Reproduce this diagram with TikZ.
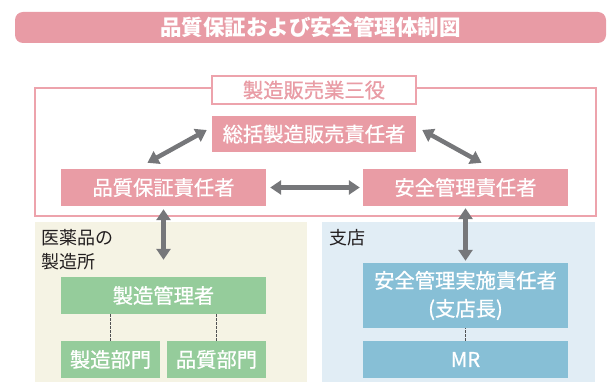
\documentclass[tikz,border=0pt]{standalone}
\usepackage{fontspec}
\setmainfont{Noto Sans CJK JP}
\newfontfamily\medfont{Noto Sans CJK JP}[FakeBold=0.9]
\usetikzlibrary{arrows.meta}
\definecolor{titlepink}{HTML}{E89BA5}
\definecolor{boxpink}{HTML}{E99CA5}
\definecolor{linepink}{HTML}{EDA3AC}
\definecolor{boxgreen}{HTML}{95CC9B}
\definecolor{boxblue}{HTML}{87BFD6}
\definecolor{bgtan}{HTML}{F5F3E4}
\definecolor{bgblue}{HTML}{E1EDF5}
\definecolor{arrowgrey}{HTML}{76777A}
\definecolor{dotgrey}{HTML}{505153}
\definecolor{labeltext}{HTML}{231F20}
\tikzset{
  boxbase/.style={rectangle, inner sep=0pt, text=white, font=\medfont\fontsize{20.3}{28}\selectfont, align=center},
  pinkbox/.style={boxbase, fill=boxpink},
  greenbox/.style={boxbase, fill=boxgreen},
  bluebox/.style={boxbase, fill=boxblue},
  bgarea/.style={rectangle, inner sep=0pt, anchor=north west},
  arealabel/.style={inner sep=0pt, anchor=base west, text=labeltext, font=\fontsize{18}{24}\selectfont},
  biarrow/.style={draw=arrowgrey, line width=4.5pt, {Triangle[width=14pt,length=11pt]}-{Triangle[width=14pt,length=11pt]}},
  dotline/.style={draw=dotgrey, line width=1.6pt, dash pattern=on 2.4pt off 1.6pt}
}
\begin{document}
\begin{tikzpicture}[x=1pt,y=-1pt]
\useasboundingbox (0,0) rectangle (614,382);
% title
\node[rectangle, rounded corners=8pt, fill=titlepink, minimum width=591pt, minimum height=31pt, inner sep=0pt,
  text=white, font=\bfseries\fontsize{21.5}{24}\selectfont] (title) at (310.5,27.5) {品質保証および安全管理体制図};
% backgrounds
\node[bgarea, fill=bgtan, minimum width=272pt, minimum height=160pt] (tanbg) at (35,222) {};
\node[bgarea, fill=bgblue, minimum width=273pt, minimum height=160pt] (bluebg) at (322,222) {};
% frame
\draw[linepink, line width=1.5pt] (35,88) rectangle (596,216);
\node[rectangle, fill=white, draw=linepink, line width=1.5pt, minimum width=204pt, minimum height=28pt, inner sep=0pt,
  text=boxpink, font=\medfont\fontsize{20.3}{24}\selectfont] (sanyaku) at (314,90) {製造販売業三役};
% boxes
\node[pinkbox, minimum width=204pt, minimum height=36pt] (sokatsu) at (314,134) {総括製造販売責任者};
\node[pinkbox, minimum width=205pt, minimum height=37pt] (hinshitsu) at (163.5,187.5) {品質保証責任者};
\node[pinkbox, minimum width=205pt, minimum height=37pt] (anzen) at (465.5,187.5) {安全管理責任者};
\node[greenbox, minimum width=205pt, minimum height=37pt] (seizokanri) at (163.5,295.5) {製造管理者};
\node[greenbox, minimum width=99pt, minimum height=37pt] (seizobumon) at (110.5,359.5) {製造部門};
\node[greenbox, minimum width=99pt, minimum height=37pt] (hinbumon) at (216.5,359.5) {品質部門};
\node[bluebox, minimum width=205pt, minimum height=65pt] (jisshi) at (465.5,295.5) {安全管理実施責任者\\(支店長)};
\node[bluebox, minimum width=205pt, minimum height=37pt] (mr) at (465.5,359.5) {MR};
% area labels
\node[arealabel, align=left] (seizosho) at (41,269) {医薬品の\\製造所};
\node[arealabel] (shiten) at (329,245) {支店};
% arrows
\draw[biarrow] ([xshift=-16pt,yshift=6pt]hinshitsu.north) -- ([xshift=-5pt,yshift=4pt]sokatsu.west);
\draw[biarrow] ([xshift=6pt,yshift=4pt]sokatsu.east) -- ([xshift=16pt,yshift=6pt]anzen.north);
\draw[biarrow, shorten <=4pt, shorten >=3pt] (hinshitsu.east) -- (anzen.west);
\draw[biarrow, shorten <=3pt, shorten >=17pt] (hinshitsu.south) -- (seizokanri.north);
\draw[biarrow, shorten <=2pt, shorten >=2pt] (anzen.south) -- (jisshi.north);
% dotted
\draw[dotline] (seizobumon.north) -- (seizobumon.north |- seizokanri.south);
\draw[dotline] (hinbumon.north) -- (hinbumon.north |- seizokanri.south);
\draw[dotline] (mr.north) -- (jisshi.south);
\end{tikzpicture}
\end{document}
